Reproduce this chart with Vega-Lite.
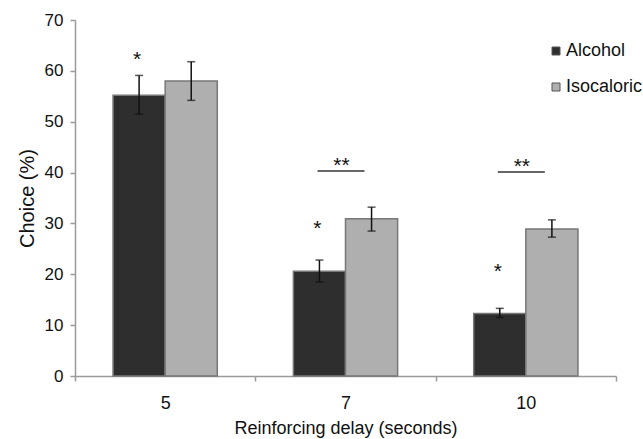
{
  "$schema": "https://vega.github.io/schema/vega-lite/v6.json",
  "width": 541,
  "height": 356,
  "autosize": {"type": "none"},
  "padding": {"left": 75, "top": 20, "right": 27, "bottom": 63},
  "background": "white",
  "config": {
    "view": {"stroke": null},
    "font": "Liberation Sans",
    "axis": {
      "domainColor": "#9a9a9a",
      "tickColor": "#9a9a9a",
      "domainWidth": 1.5,
      "tickWidth": 1.5,
      "tickSize": 5,
      "labelColor": "#111",
      "titleColor": "#111",
      "labelFont": "Liberation Sans",
      "titleFont": "Liberation Sans",
      "titleFontWeight": "normal",
      "grid": false
    }
  },
  "datasets": {
    "bars": [
      {"delay": "5", "group": "Alcohol", "value": 55.2, "lo": 51.5, "hi": 59.1},
      {"delay": "5", "group": "Isocaloric", "value": 58.0, "lo": 54.2, "hi": 61.8},
      {"delay": "7", "group": "Alcohol", "value": 20.6, "lo": 18.5, "hi": 22.8},
      {"delay": "7", "group": "Isocaloric", "value": 30.9, "lo": 28.5, "hi": 33.2},
      {"delay": "10", "group": "Alcohol", "value": 12.3, "lo": 11.5, "hi": 13.3},
      {"delay": "10", "group": "Isocaloric", "value": 28.9, "lo": 27.3, "hi": 30.7}
    ],
    "stars": [
      {"delay": "5", "group": "Alcohol", "label": "*", "y": 63.3},
      {"delay": "7", "group": "Alcohol", "label": "*", "y": 30.1},
      {"delay": "10", "group": "Alcohol", "label": "*", "y": 21.6}
    ],
    "sig": [
      {"delay": "7", "label": "**", "y": 42.5, "lineY": 40.3},
      {"delay": "10", "label": "**", "y": 42.3, "lineY": 40.1}
    ]
  },
  "layer": [
    {
      "data": {"name": "bars"},
      "mark": {"type": "bar", "stroke": "#777", "strokeWidth": 1.5},
      "encoding": {
        "x": {
          "field": "delay", "type": "nominal", "sort": ["5", "7", "10"],
          "scale": {"paddingInner": 0, "paddingOuter": 0},
          "axis": {
            "title": "Reinforcing delay (seconds)",
            "labelAngle": 0,
            "labelFontSize": 18,
            "titleFontSize": 18,
            "labelPadding": 13,
            "titlePadding": 7,
            "tickBand": "extent"
          }
        },
        "xOffset": {
          "field": "group", "type": "nominal", "sort": ["Alcohol", "Isocaloric"],
          "scale": {"paddingInner": 0, "paddingOuter": 0.73}
        },
        "y": {
          "field": "value", "type": "quantitative",
          "scale": {"domain": [0, 70], "nice": false},
          "axis": {
            "title": "Choice (%)",
            "values": [0, 10, 20, 30, 40, 50, 60, 70],
            "labelFontSize": 17,
            "titleFontSize": 20,
            "labelPadding": 7,
            "titlePadding": 7
          }
        },
        "color": {
          "field": "group", "type": "nominal",
          "scale": {"domain": ["Alcohol", "Isocaloric"], "range": ["#2e2e2e", "#afafaf"]},
          "legend": {
            "title": null,
            "orient": "none",
            "legendX": 472,
            "legendY": 22,
            "padding": 0,
            "symbolType": "square",
            "symbolSize": 64,
            "symbolStrokeColor": "#555",
            "symbolStrokeWidth": 1,
            "labelFontSize": 18,
            "labelColor": "#111",
            "labelOffset": 1,
            "rowPadding": 18
          }
        }
      }
    },
    {
      "data": {"name": "bars"},
      "mark": {"type": "rule", "color": "#111", "strokeWidth": 1.5},
      "encoding": {
        "x": {"field": "delay", "type": "nominal", "sort": ["5", "7", "10"]},
        "xOffset": {"field": "group", "type": "nominal", "sort": ["Alcohol", "Isocaloric"]},
        "y": {"field": "lo", "type": "quantitative"},
        "y2": {"field": "hi"}
      }
    },
    {
      "data": {"name": "bars"},
      "mark": {"type": "tick", "color": "#111", "orient": "horizontal", "size": 8, "thickness": 1.5},
      "encoding": {
        "x": {"field": "delay", "type": "nominal", "sort": ["5", "7", "10"]},
        "xOffset": {"field": "group", "type": "nominal", "sort": ["Alcohol", "Isocaloric"]},
        "y": {"field": "lo", "type": "quantitative"}
      }
    },
    {
      "data": {"name": "bars"},
      "mark": {"type": "tick", "color": "#111", "orient": "horizontal", "size": 8, "thickness": 1.5},
      "encoding": {
        "x": {"field": "delay", "type": "nominal", "sort": ["5", "7", "10"]},
        "xOffset": {"field": "group", "type": "nominal", "sort": ["Alcohol", "Isocaloric"]},
        "y": {"field": "hi", "type": "quantitative"}
      }
    },
    {
      "data": {"name": "stars"},
      "mark": {"type": "text", "fontSize": 21, "color": "#111", "baseline": "alphabetic", "dy": 12, "dx": -2},
      "encoding": {
        "x": {"field": "delay", "type": "nominal", "sort": ["5", "7", "10"]},
        "xOffset": {"field": "group", "type": "nominal", "sort": ["Alcohol", "Isocaloric"]},
        "y": {"field": "y", "type": "quantitative"},
        "text": {"field": "label"}
      }
    },
    {
      "data": {"name": "sig"},
      "mark": {"type": "text", "fontSize": 21, "color": "#111", "baseline": "alphabetic", "dy": 12, "dx": -4},
      "encoding": {
        "x": {"field": "delay", "type": "nominal", "sort": ["5", "7", "10"]},
        "y": {"field": "y", "type": "quantitative"},
        "text": {"field": "label"}
      }
    },
    {
      "data": {"name": "sig"},
      "mark": {"type": "rule", "color": "#333", "strokeWidth": 1.5, "xOffset": -28, "x2Offset": 19},
      "encoding": {
        "x": {"field": "delay", "type": "nominal", "sort": ["5", "7", "10"]},
        "x2": {"field": "delay"},
        "y": {"field": "lineY", "type": "quantitative"}
      }
    }
  ]
}
